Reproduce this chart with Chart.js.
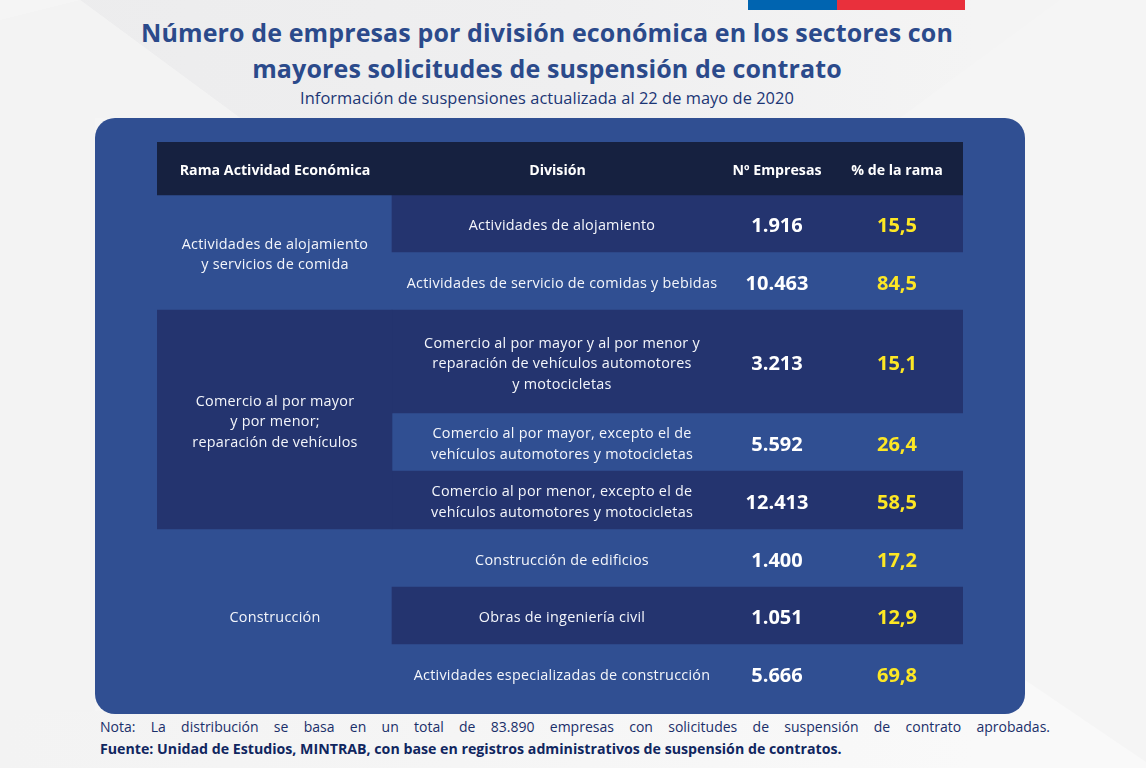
<!DOCTYPE html>
<html lang="es"><head><meta charset="utf-8">
<script src="https://cdn.jsdelivr.net/npm/chart.js@4"></script>
<style>
html,body{margin:0;padding:0;width:1146px;height:768px;overflow:hidden;background:#f5f5f5;font-family:"Open Sans",sans-serif}
.abs{position:absolute}
#bgA{left:0;top:0;width:1146px;height:768px;background:linear-gradient(90deg,#ececed 0,#efeff0 50%,#f4f4f4 85%);clip-path:polygon(80px 0,1060px 0,900px 118px,240px 118px)}
#bgB{left:0;top:0;width:1146px;height:768px;background:#f3f3f3;clip-path:polygon(0 20px,80px 0,240px 118px,95px 118px,95px 714px,0 768px)}
#bgC{left:0;top:0;width:1146px;height:768px;background:linear-gradient(90deg,#f3f3f3 0,#f5f5f5 40%,#f9f9f9 85%);clip-path:polygon(0 714px,1025px 680px,1146px 762px,1146px 768px,0 768px)}
#title{left:100px;width:894px;top:14px;text-align:center;color:#2b4a8b;font-weight:700;font-size:25px;line-height:36px;letter-spacing:.12px}
#sub{left:100px;width:894px;top:87px;text-align:center;color:#1c3675;font-size:16.4px;line-height:22px;letter-spacing:.05px}
#note{left:100px;width:950px;top:716px;color:#1a2f6a;font-size:14px;line-height:22px;text-align:justify;text-align-last:justify}
#src{left:100px;width:950px;top:738px;color:#10265f;font-size:14.2px;line-height:22px;font-weight:700}
#panel{left:95px;top:118px;width:930px;height:596px;background:#304f92;border-radius:20px}
#blue{left:748px;top:0;width:89px;height:10px;background:#0064b0}
#red{left:837px;top:0;width:128px;height:10px;background:#e9303c}
#c{position:absolute;left:0;top:0}
</style></head><body>
<div class="abs" id="bgA"></div><div class="abs" id="bgB"></div><div class="abs" id="bgC"></div>
<div class="abs" id="blue"></div><div class="abs" id="red"></div>
<div class="abs" id="title">Número de empresas por división económica en los sectores con<br>mayores solicitudes de suspensión de contrato</div>
<div class="abs" id="sub">Información de suspensiones actualizada al 22 de mayo de 2020</div>
<div class="abs" id="panel"></div>
<div class="abs" id="note">Nota: La distribución se basa en un total de 83.890 empresas con solicitudes de suspensión de contrato aprobadas.</div>
<div class="abs" id="src">Fuente: Unidad de Estudios, MINTRAB, con base en registros administrativos de suspensión de contratos.</div>
<canvas id="c" width="1146" height="768"></canvas>
<script>
const headers = ["Rama Actividad Económica","División","Nº Empresas","% de la rama"];
const ramas = [["Actividades de alojamiento","y servicios de comida"],["Comercio al por mayor","y por menor;","reparación de vehículos"],["Construcción"]];
const ramaRows = [2,3,3];
const divisiones = [
 ["Actividades de alojamiento"],
 ["Actividades de servicio de comidas y bebidas"],
 ["Comercio al por mayor y al por menor y","reparación de vehículos automotores","y motocicletas"],
 ["Comercio al por mayor, excepto el de","vehículos automotores y motocicletas"],
 ["Comercio al por menor, excepto el de","vehículos automotores y motocicletas"],
 ["Construcción de edificios"],
 ["Obras de ingeniería civil"],
 ["Actividades especializadas de construcción"]];
const empresas = [1916,10463,3213,5592,12413,1400,1051,5666];
const porcentajes = [15.5,84.5,15.1,26.4,58.5,17.2,12.9,69.8];
// layout of the table (row depths on the y scale, column boundaries on the x scale)
const rowDepths = [53,57,58,103,58,58,58,57,58];
const colEdges = [0,235,806];
const colCenters = [118,405,620,740];
const headCenters = [118,400.5,620,740];
const HEAD='#162140', DARK='#24346f', YEL='#fde724';
let acc=[0]; rowDepths.forEach(d=>acc.push(acc[acc.length-1]+d));
const span=i=>[acc[i],acc[i+1]];
const mid=(a,b)=>(acc[a]+acc[b])/2;
const fmt=v=>v.toLocaleString('es-CL');
const fmtP=v=>v.toFixed(1).replace('.',',');
const W=colEdges[2], wRama=colEdges[1], wBody=colEdges[2]-colEdges[1];
const ds=[
 {label:'Encabezado',data:[{x:W/2,y:span(0)}],backgroundColor:HEAD,barThickness:W,grouped:false},
 {label:'Rama',data:[{x:wRama/2,y:[acc[3],acc[6]]}],backgroundColor:DARK,barThickness:wRama,grouped:false},
 {label:'División',data:[1,3,5,7].map(i=>({x:wRama+wBody/2,y:span(i)})),backgroundColor:DARK,barThickness:wBody,grouped:false}
];
const cellText={id:'cellText',afterDatasetsDraw(ch){
 const {ctx,scales:{x,y}}=ch; ctx.save(); ctx.textAlign='center'; ctx.textBaseline='middle';
 const put=(lines,cx,cy,font,col,lh,sp='0px',dy=2)=>{ctx.font=font;ctx.fillStyle=col;ctx.letterSpacing=sp;
  lines.forEach((l,i)=>ctx.fillText(l,x.getPixelForValue(cx),y.getPixelForValue(cy)+dy+(i-(lines.length-1)/2)*lh));};
 headers.forEach((h,i)=>put([h],headCenters[i],mid(0,1),'700 14.2px "Open Sans"','#fff',20));
 let r=1; ramas.forEach((t,i)=>{put(t,colCenters[0],mid(r,r+ramaRows[i]),'14.4px "Open Sans"','#f4f6fb',20.5,'.25px',2.5); r+=ramaRows[i];});
 divisiones.forEach((t,i)=>{const c=mid(i+1,i+2);
  put(t,colCenters[1],c,'14.4px "Open Sans"','#f4f6fb',20.5,'.25px',2.5);
  put([fmt(empresas[i])],colCenters[2],c,'700 20px "Open Sans"','#fff',20,'0px',3);
  put([fmtP(porcentajes[i])],colCenters[3],c,'700 20px "Open Sans"',YEL,20,'0px',3);});
 ctx.restore();}};
new Chart(document.getElementById('c'),{type:'bar',data:{datasets:ds},plugins:[cellText],options:{
 responsive:false,animation:false,devicePixelRatio:1,parsing:{xAxisKey:'x',yAxisKey:'y'},
 layout:{padding:{left:157,right:183,top:142,bottom:66}},
 plugins:{legend:{display:false},title:{display:false},tooltip:{enabled:false}},
 scales:{x:{type:'linear',min:0,max:W,offset:false,display:false,grid:{display:false}},
         y:{type:'linear',min:0,max:acc[acc.length-1],reverse:true,offset:false,display:false,grid:{display:false}}}}});
</script></body></html>
